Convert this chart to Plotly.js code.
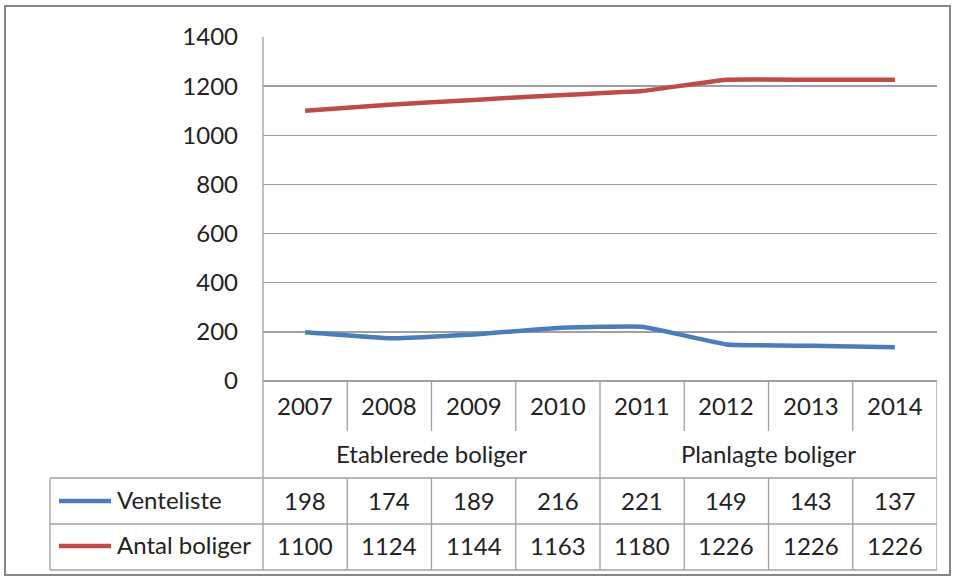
<!DOCTYPE html>
<html><head><meta charset="utf-8">
<script src="https://cdn.plot.ly/plotly-3.0.1.min.js"></script>
<style>html,body{margin:0;padding:0;background:#fff}#c{width:956px;height:579px}</style>
</head><body><div id="c"></div>
<script>
var years = ['2007','2008','2009','2010','2011','2012','2013','2014'];
var groupNames = ['Etablerede boliger','Planlagte boliger'];
var groupSizes = [4,4];
var seriesNames = ['Venteliste','Antal boliger'];
var venteliste = [198,174,189,216,221,149,143,137];
var antal = [1100,1124,1144,1163,1180,1226,1226,1226];
var seriesValues = [venteliste, antal];
var seriesColors = ['#4A7EBB','#BE4B48'];

var W=956,H=579;
function px(x){return x/W;}
function py(y){return 1-y/H;}
var FONT={family:'Lato, "Noto Sans", sans-serif',size:24,color:'#222222'};
var GRID='#a0a0a0';
var idx = years.map(function(_,i){return i;});

var traces = seriesValues.map(function(v,k){
  return {x:idx,y:v,type:'scatter',mode:'lines',name:seriesNames[k],
    line:{color:seriesColors[k],width:4.5,shape:'spline',smoothing:0.3},hoverinfo:'skip'};
});

var shapes=[], ann=[];
var tTop=381, yrBot=431, grpBot=478, r1Bot=524, r2Bot=570, tLeft=50;
function vline(xd,y0,y1){shapes.push({type:'line',xref:'x',yref:'paper',x0:xd,x1:xd,y0:py(y0),y1:py(y1),line:{color:GRID,width:1.3}});}
function hlinePx(x0,x1,y){shapes.push({type:'line',xref:'paper',yref:'paper',x0:px(x0),x1:px(x1),y0:py(y),y1:py(y),line:{color:GRID,width:1.3}});}
shapes.push({type:'line',xref:'paper',yref:'paper',x0:px(263),x1:px(263),y0:py(37),y1:py(r2Bot),line:{color:GRID,width:1.3}});
vline(years.length-0.5,tTop,r2Bot);
var gEnds=[],acc=0;groupSizes.forEach(function(s){acc+=s;gEnds.push(acc);});
for(var i=1;i<years.length;i++){
  var isGroupEdge = gEnds.indexOf(i)>=0;
  vline(i-0.5,tTop,isGroupEdge?grpBot:yrBot);
  vline(i-0.5,grpBot,r2Bot);
}
hlinePx(tLeft,937,grpBot);hlinePx(tLeft,937,r1Bot);hlinePx(tLeft,937,r2Bot);
shapes.push({type:'line',xref:'paper',yref:'paper',x0:px(tLeft),x1:px(tLeft),y0:py(grpBot),y1:py(r2Bot),line:{color:GRID,width:1.3}});
shapes.push({type:'rect',xref:'paper',yref:'paper',x0:px(5),x1:px(950),y0:py(6),y1:py(575),line:{color:'#868686',width:2}});

years.forEach(function(y,i){ann.push({xref:'x',yref:'paper',x:i,y:py(405),text:y,showarrow:false,font:FONT,xanchor:'center',yanchor:'middle'});});
var start=0;
groupNames.forEach(function(g,k){
  var c=start+(groupSizes[k]-1)/2; start+=groupSizes[k];
  ann.push({xref:'x',yref:'paper',x:c,y:py(453),text:g,showarrow:false,font:FONT,xanchor:'center',yanchor:'middle'});
});
var rowY=[500,545];
seriesValues.forEach(function(v,k){
  v.forEach(function(val,i){ann.push({xref:'x',yref:'paper',x:i,y:py(rowY[k]),text:String(val),showarrow:false,font:FONT,xanchor:'center',yanchor:'middle'});});
  shapes.push({type:'line',xref:'paper',yref:'paper',x0:px(59),x1:px(111),y0:py(rowY[k]+1),y1:py(rowY[k]+1),line:{color:seriesColors[k],width:4.5}});
  ann.push({xref:'paper',yref:'paper',x:px(115),y:py(rowY[k]-1),text:seriesNames[k],showarrow:false,font:FONT,xanchor:'left',yanchor:'middle'});
});

var layout={width:W,height:H,margin:{l:0,r:0,t:0,b:0},paper_bgcolor:'#fff',plot_bgcolor:'#fff',showlegend:false,
  font:FONT,
  xaxis:{domain:[px(263),px(937)],range:[-0.5,years.length-0.5],showticklabels:false,showgrid:false,zeroline:false,showline:false,ticks:'',fixedrange:true},
  yaxis:{domain:[py(381),py(37)],range:[0,1400],dtick:200,tick0:0,showgrid:true,gridcolor:GRID,gridwidth:1.3,zeroline:true,zerolinecolor:GRID,zerolinewidth:1.3,
    showline:false,ticks:'',ticklabelstandoff:24,tickfont:FONT,fixedrange:true},
  shapes:shapes,annotations:ann};
Plotly.newPlot('c',traces,layout,{staticPlot:true,displayModeBar:false});
</script></body></html>
